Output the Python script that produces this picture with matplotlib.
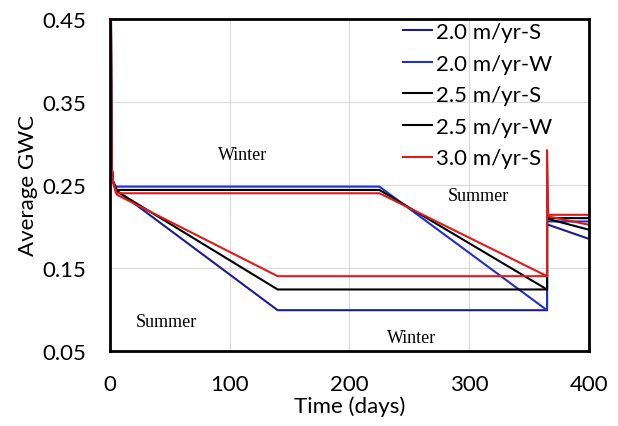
"""
Average GWC vs time for different recharge rates, summer/winter start
"""
import matplotlib
matplotlib.use('Agg')
import matplotlib.pyplot as plt

plt.rcParams['font.family'] = ['Lato', 'DejaVu Sans']

# 数据：时间(天) 和 平均GWC
t_s = [0.8, 1.2, 2.5, 6, 140, 365, 365, 366, 400]
t_w = [0.8, 1.2, 2.5, 5, 225, 365, 365, 400]

gwc_s20 = [0.45, 0.275, 0.254, 0.243, 0.099, 0.099, 0.202, 0.202, 0.185]
gwc_w20 = [0.45, 0.275, 0.254, 0.248, 0.248, 0.099, 0.206, 0.206]
gwc_s25 = [0.45, 0.275, 0.254, 0.242, 0.124, 0.124, 0.209, 0.209, 0.196]
gwc_w25 = [0.45, 0.275, 0.254, 0.244, 0.244, 0.124, 0.210, 0.210]
gwc_s30 = [0.45, 0.275, 0.254, 0.238, 0.140, 0.140, 0.292, 0.212, 0.202]
gwc_w30 = [0.45, 0.275, 0.254, 0.240, 0.240, 0.140, 0.214, 0.214]

labels = ['2.0 m/yr-S', '2.0 m/yr-W', '2.5 m/yr-S', '2.5 m/yr-W', '3.0 m/yr-S', None]
colors = ['#1c1c8c', '#1f2fd0', '#000000', '#000000', '#e01a1a', '#e01a1a']

# 季节标注
season_text = ['Winter', 'Summer', 'Summer', 'Winter']
season_x = [111, 308, 47, 252]
season_y = [0.287, 0.237, 0.085, 0.066]

xticks = [0, 100, 200, 300, 400]
yticks = [0.05, 0.15, 0.25, 0.35, 0.45]

fig = plt.figure(figsize=(6.18, 4.27), dpi=100)
ax = fig.add_axes([0.178, 0.176, 0.775, 0.777])

series = [(t_s, gwc_s20), (t_w, gwc_w20), (t_s, gwc_s25),
          (t_w, gwc_w25), (t_s, gwc_s30), (t_w, gwc_w30)]
for (tt, yy), lab, c in zip(series, labels, colors):
    ax.plot(tt, yy, color=c, lw=1.5, label=lab if lab else '_nolegend_')

for txt, x, y in zip(season_text, season_x, season_y):
    ax.text(x, y, txt, ha='center', va='center', fontsize=13,
            family='Liberation Serif')

ax.set_xlim(0, 400)
ax.set_ylim(0.05, 0.45)
ax.set_xticks(xticks)
ax.set_yticks(yticks)
ax.set_yticklabels([f'{v:.2f}' for v in yticks])
ax.tick_params(length=0, labelsize=16, pad=17)
ax.grid(True, color='#d9d9d9', lw=0.8)
ax.set_axisbelow(True)
for sp in ax.spines.values():
    sp.set_linewidth(2)
    sp.set_color('black')

ax.set_xlabel('Time (days)', fontsize=16, labelpad=1)
ax.set_ylabel('Average GWC', fontsize=16, labelpad=3)

fig.legend(loc='upper left', bbox_to_anchor=(392 / 618, 1 - 12 / 427),
           frameon=False, fontsize=16, borderpad=0, handlelength=1.3,
           handletextpad=0.2, labelspacing=0.52)

fig.savefig('out.png', dpi=100)
